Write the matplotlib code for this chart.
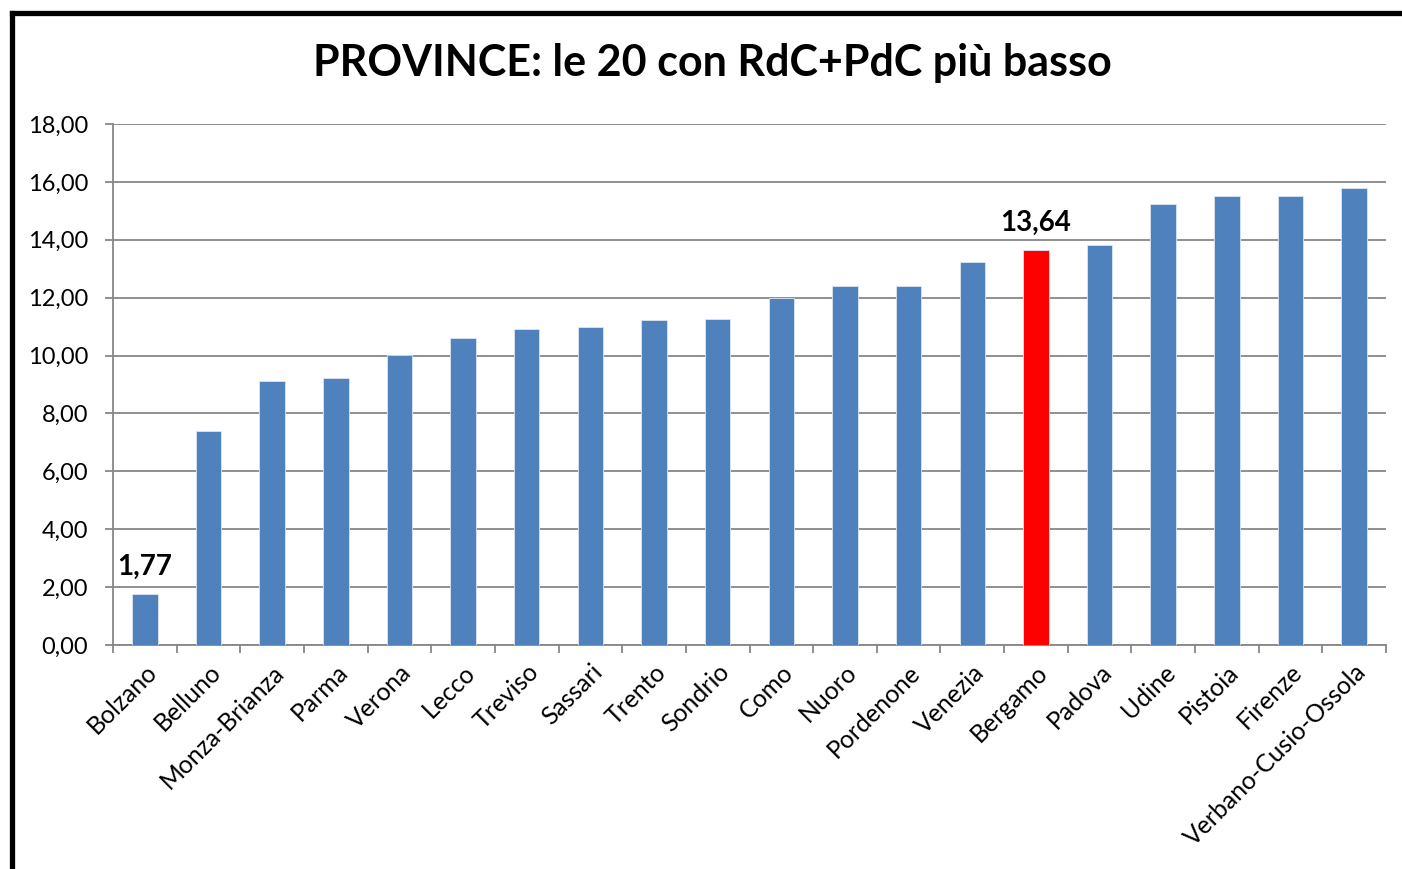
import matplotlib
matplotlib.use("Agg")
import matplotlib.pyplot as plt
from matplotlib.lines import Line2D
from matplotlib.ticker import FuncFormatter, MultipleLocator

plt.rcParams['font.family'] = ['Lato', 'DejaVu Sans']

province = ["Bolzano", "Belluno", "Monza-Brianza", "Parma", "Verona", "Lecco",
            "Treviso", "Sassari", "Trento", "Sondrio", "Como", "Nuoro",
            "Pordenone", "Venezia", "Bergamo", "Padova", "Udine", "Pistoia",
            "Firenze", "Verbano-Cusio-Ossola"]
valori = [1.77, 7.40, 9.12, 9.22, 10.01, 10.60, 10.92, 10.97, 11.23, 11.26,
          11.99, 12.40, 12.42, 13.24, 13.64, 13.83, 15.24, 15.50, 15.50, 15.79]
evidenziata = "Bergamo"
etichette = {"Bolzano": "1,77", "Bergamo": "13,64"}
titolo = "PROVINCE: le 20 con RdC+PdC più basso"

W, H = 1402, 869
fig = plt.figure(figsize=(W / 100, H / 100), dpi=100)
fig.patch.set_facecolor("white")
ax = fig.add_axes([113 / W, 1 - 645 / H, (1386 - 113) / W, (645 - 124) / H])

x = list(range(len(province)))
colors = ["#FF0000" if p == evidenziata else "#4F81BD" for p in province]
ax.bar(x, valori, width=0.4, color=colors, edgecolor="#dce6f2", linewidth=0.6, zorder=3)

for i, (p, v) in enumerate(zip(province, valori)):
    if p in etichette:
        ax.annotate(etichette[p], (i, v), xytext=(0, 10), textcoords="offset points",
                    ha="center", va="bottom", fontsize=20, fontweight="bold", color="black")

ax.set_xlim(-0.5, len(province) - 0.5)
ax.set_ylim(0, 18)
ax.yaxis.set_major_locator(MultipleLocator(2))
ax.yaxis.set_major_formatter(FuncFormatter(lambda v, _: f"{v:.2f}".replace(".", ",")))
ax.grid(axis="y", color="#878787", linewidth=1.3, zorder=0)
ax.set_axisbelow(True)

ax.set_xticks([i - 0.5 for i in range(len(province) + 1)], minor=False)
ax.set_xticklabels([])
ax.set_xticks(x, minor=True)
ax.set_xticklabels(province, minor=True, rotation=45, ha="right", va="top",
                   rotation_mode="anchor", fontsize=17.8)
ax.tick_params(axis="x", which="minor", length=0, pad=11)
ax.tick_params(axis="x", which="major", length=6, width=1.3, color="#878787")
ax.tick_params(axis="y", length=6, width=1.3, color="#878787", labelsize=17, pad=12)

for s in ["top", "right"]:
    ax.spines[s].set_visible(False)
for s in ["left", "bottom"]:
    ax.spines[s].set_color("#878787")
    ax.spines[s].set_linewidth(1.3)

fig.text(712 / W, 1 - 63 / H, titolo, ha="center", va="center",
         fontsize=31, fontweight="bold", color="black")

# chart frame (partially visible)
fig.add_artist(Line2D([12 / W, 1.01], [1 - 13 / H, 1 - 13 / H], transform=fig.transFigure,
                      color="black", linewidth=3.8, solid_capstyle="projecting"))
fig.add_artist(Line2D([12 / W, 12 / W], [1 - 13 / H, -0.01], transform=fig.transFigure,
                      color="black", linewidth=3.8, solid_capstyle="projecting"))

fig.savefig("out.png", dpi=100, facecolor="white")
